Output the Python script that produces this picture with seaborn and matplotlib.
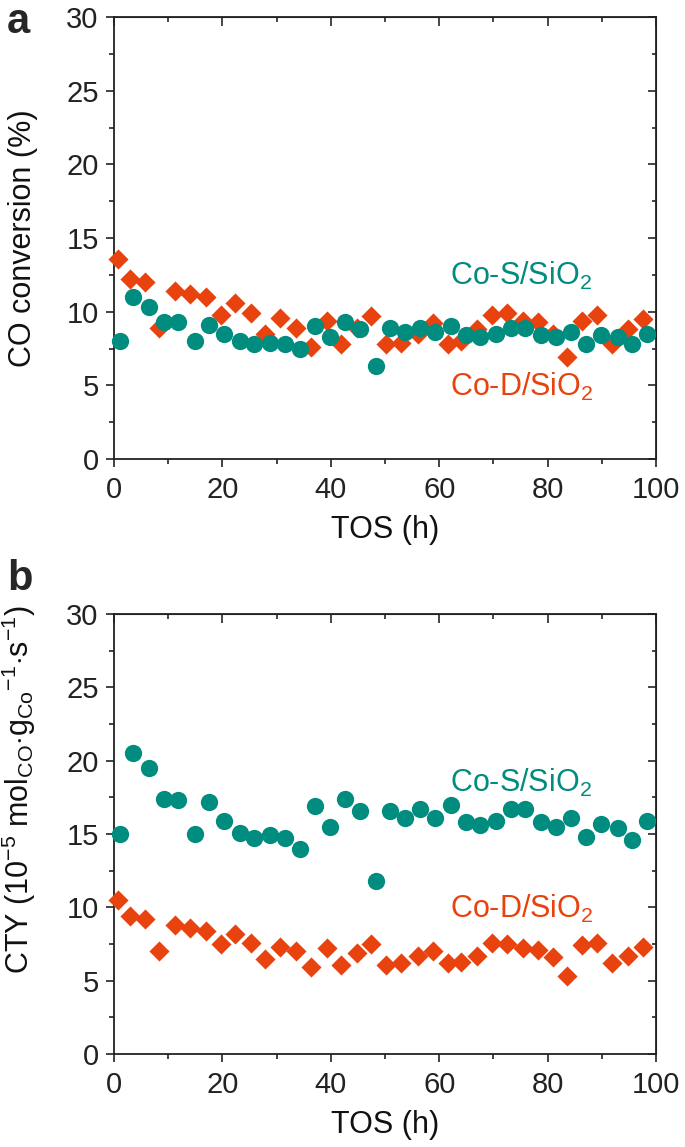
import matplotlib
matplotlib.use("Agg")
import matplotlib.pyplot as plt
from matplotlib.ticker import MultipleLocator
import seaborn as sns
import pandas as pd

# time on stream (h)
tos_s = [1.1, 3.5, 6.5, 9.2, 11.9, 14.9, 17.6, 20.3, 23.2, 25.9, 28.7, 31.5,
         34.3, 37.1, 39.9, 42.7, 45.4, 48.3, 51.0, 53.7, 56.5, 59.2, 62.1, 65.0,
         67.6, 70.5, 73.3, 75.9, 78.7, 81.6, 84.4, 87.1, 89.9, 92.9, 95.6, 98.4]
tos_d = [0.8, 2.9, 5.7, 8.3, 11.3, 14.0, 17.0, 19.7, 22.4, 25.2, 27.9, 30.7,
         33.5, 36.4, 39.3, 41.9, 44.8, 47.5, 50.2, 52.9, 56.0, 58.8, 61.6, 64.1,
         66.9, 69.7, 72.5, 75.4, 78.2, 81.0, 83.6, 86.3, 89.2, 91.9, 94.8, 97.6]

# panel a - CO conversion (%)
conv_s = [8.0, 11.0, 10.3, 9.3, 9.3, 8.0, 9.1, 8.5, 8.0, 7.8, 7.9, 7.8,
          7.5, 9.0, 8.3, 9.3, 8.8, 6.3, 8.9, 8.6, 8.9, 8.6, 9.0, 8.4,
          8.3, 8.5, 8.9, 8.9, 8.4, 8.3, 8.6, 7.8, 8.4, 8.3, 7.8, 8.5]
conv_d = [13.6, 12.2, 12.0, 8.9, 11.4, 11.2, 11.0, 9.8, 10.6, 9.9, 8.5, 9.6,
          8.9, 7.6, 9.4, 7.8, 8.9, 9.7, 7.8, 7.9, 8.5, 9.2, 7.8, 8.0,
          8.8, 9.8, 9.9, 9.4, 9.3, 8.5, 6.9, 9.4, 9.8, 7.8, 8.8, 9.5]

# panel b - CTY (1e-5 mol_CO g_Co^-1 s^-1)
cty_s = [15.0, 20.5, 19.5, 17.4, 17.3, 15.0, 17.2, 15.9, 15.1, 14.7, 14.9, 14.7,
         14.0, 16.9, 15.5, 17.4, 16.6, 11.8, 16.6, 16.1, 16.7, 16.1, 17.0, 15.8,
         15.6, 15.9, 16.7, 16.7, 15.8, 15.5, 16.1, 14.8, 15.7, 15.4, 14.6, 15.9]
cty_d = [10.5, 9.4, 9.2, 7.0, 8.8, 8.6, 8.4, 7.5, 8.2, 7.6, 6.5, 7.3,
         7.0, 5.9, 7.2, 6.1, 6.9, 7.5, 6.1, 6.2, 6.7, 7.0, 6.2, 6.3,
         6.7, 7.6, 7.5, 7.2, 7.1, 6.6, 5.3, 7.4, 7.6, 6.2, 6.7, 7.3]

teal = "#008C7E"
orange = "#E8420E"

sns.set_style("ticks")
plt.rcParams["font.family"] = ["Liberation Sans", "DejaVu Sans"]
plt.rcParams["mathtext.fontset"] = "custom"
plt.rcParams["mathtext.rm"] = "Liberation Sans"
plt.rcParams["mathtext.it"] = "Liberation Sans:italic"
plt.rcParams["mathtext.bf"] = "Liberation Sans:bold"

fig = plt.figure(figsize=(6.85, 11.47), dpi=100)
W, H = 685, 1147
ax_a = fig.add_axes([114 / W, 1 - 459 / H, 542 / W, 442 / H])
ax_b = fig.add_axes([114 / W, 1 - 1054 / H, 542 / W, 440 / H])

panels = [
    (ax_a, conv_s, conv_d, "CO conversion (%)", 11.8, 4.3, 0.5),
    (ax_b, cty_s, cty_d,
     r"CTY (10$^{-5}$ mol$_{\mathregular{CO}}$$\cdot$g$_{\mathregular{Co}}{}^{-1}$$\cdot$s$^{-1}$)",
     17.9, 9.3, 0.6),
]

for ax, ys, yd, ylab, ts, td, ly in panels:
    df_s = pd.DataFrame({"TOS": tos_s, "val": ys})
    df_d = pd.DataFrame({"TOS": tos_d, "val": yd})
    sns.scatterplot(data=df_d, x="TOS", y="val", marker="D", s=105, color=orange,
                    linewidth=0, ax=ax, clip_on=False, zorder=3)
    sns.scatterplot(data=df_s, x="TOS", y="val", marker="o", s=155, color=teal,
                    linewidth=0, ax=ax, clip_on=False, zorder=4)
    ax.set_xlim(0, 100)
    ax.set_ylim(0, 30)
    ax.xaxis.set_major_locator(MultipleLocator(20))
    ax.xaxis.set_minor_locator(MultipleLocator(10))
    ax.yaxis.set_major_locator(MultipleLocator(5))
    ax.yaxis.set_minor_locator(MultipleLocator(2.5))
    for sp in ax.spines.values():
        sp.set_visible(True)
        sp.set_linewidth(1.3)
        sp.set_color("#222222")
    ax.tick_params(which="major", direction="out", length=6, width=1.2,
                   labelsize=21, pad=5, colors="#222222")
    ax.tick_params(axis="x", which="major", pad=6)
    ax.tick_params(which="minor", direction="out", length=3.5, width=1.2,
                   colors="#222222")
    # top and right ticks point inwards
    top = ax.secondary_xaxis("top")
    top.xaxis.set_major_locator(MultipleLocator(20))
    top.xaxis.set_minor_locator(MultipleLocator(10))
    top.tick_params(which="major", direction="in", length=6.5, width=1.2, labeltop=False)
    top.tick_params(which="minor", direction="in", length=3.5, width=1.2)
    right = ax.secondary_yaxis("right")
    right.yaxis.set_major_locator(MultipleLocator(5))
    right.yaxis.set_minor_locator(MultipleLocator(2.5))
    right.tick_params(which="major", direction="in", length=6, width=1.2, labelright=False)
    right.tick_params(which="minor", direction="in", length=3, width=1.2)
    ax.set_xlabel("TOS (h)", fontsize=22, color="#111111", labelpad=8)
    ax.set_ylabel(ylab, fontsize=22, color="#111111")
    ax.yaxis.set_label_coords(-0.14, ly)
    ax.text(62, ts, r"Co-S/SiO$_2$", color=teal, fontsize=22)
    ax.text(62, td, r"Co-D/SiO$_2$", color=orange, fontsize=22)

fig.text(7 / W, 1 - 33 / H, "a", fontsize=30, fontweight="bold")
fig.text(7 / W, 1 - 590 / H, "b", fontsize=30, fontweight="bold")

fig.savefig("out.png", dpi=100)
